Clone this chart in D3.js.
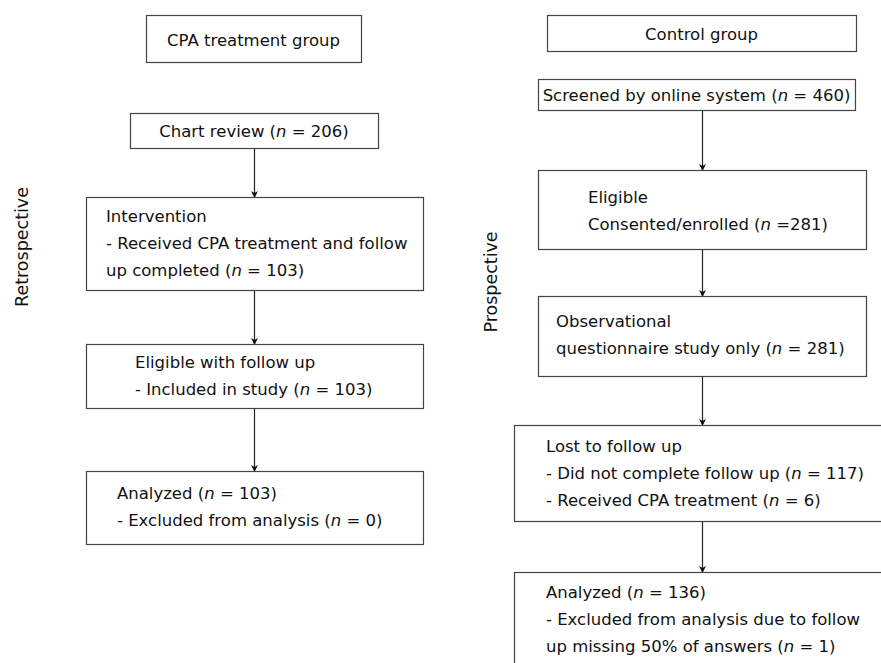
<!DOCTYPE html>
<html>
<head>
<meta charset="utf-8">
<script src="https://cdn.jsdelivr.net/npm/d3@7"></script>
<style>
  body { margin: 0; background: #fff; }
  svg { display: block; }
</style>
</head>
<body>
<svg id="chart" width="881" height="663"></svg>
<script>
// ######## Data: group titles, phase labels, box texts and counts
var groupTitles = ["CPA treatment group", "Control group"];
var phaseLabels = ["Retrospective", "Prospective"];

// n values
var cpaCounts = [206, 103, 103, 103, 0];
var controlCounts = [460, 281, 281, 117, 6, 136, 1];

// box texts, {n} is replaced with the italic n and the count
var cpaBoxes = [
  ["Chart review ({n} = " + cpaCounts[0] + ")"],
  ["Intervention", "- Received CPA treatment and follow", "up completed ({n} = " + cpaCounts[1] + ")"],
  ["Eligible with follow up", "- Included in study ({n} = " + cpaCounts[2] + ")"],
  ["Analyzed ({n} = " + cpaCounts[3] + ")", "- Excluded from analysis ({n} = " + cpaCounts[4] + ")"]
];
var controlBoxes = [
  ["Screened by online system ({n} = " + controlCounts[0] + ")"],
  ["Eligible", "Consented/enrolled ({n} =" + controlCounts[1] + ")"],
  ["Observational", "questionnaire study only ({n} = " + controlCounts[2] + ")"],
  ["Lost to follow up", "- Did not complete follow up ({n} = " + controlCounts[3] + ")", "- Received CPA treatment ({n} = " + controlCounts[4] + ")"],
  ["Analyzed ({n} = " + controlCounts[5] + ")", "- Excluded from analysis due to follow", "up missing 50% of answers ({n} = " + controlCounts[6] + ")"]
];

// ######## Layout (box geometry, text start)
var titleLayout = [
  {x0: 146, x1: 361, y0: 15, y1: 62},
  {x0: 547, x1: 856, y0: 15, y1: 51}
];
var cpaLayout = [
  {x0: 130, x1: 378, y0: 113, y1: 148, tx: "middle", first: 137},
  {x0: 86, x1: 423, y0: 197, y1: 290, tx: 106, first: 222},
  {x0: 86, x1: 423, y0: 344, y1: 408, tx: 135, first: 368},
  {x0: 86, x1: 423, y0: 471, y1: 544, tx: 117, first: 499}
];
var controlLayout = [
  {x0: 538, x1: 855, y0: 79, y1: 110, tx: "middle", first: 101},
  {x0: 538, x1: 866, y0: 170, y1: 249, tx: 588, first: 203},
  {x0: 538, x1: 866, y0: 296, y1: 376, tx: 556, first: 327},
  {x0: 514, x1: 900, y0: 425, y1: 521, tx: 546, first: 452},
  {x0: 514, x1: 900, y0: 572, y1: 700, tx: 546, first: 598}
];
var arrowX = [254, 702];
var phaseLayout = [{x: 28, y: 247}, {x: 497, y: 282}];

var fontFamily = "Tahoma, 'DejaVu Sans', sans-serif";
var fontSize = 16.5;
var phaseFontSize = 17.5;
var lineGap = 27;

var svg = d3.select("#chart");

svg.append("defs").append("marker")
  .attr("id", "arrowhead")
  .attr("viewBox", "0 0 10 10")
  .attr("refX", 10).attr("refY", 5)
  .attr("markerWidth", 7).attr("markerHeight", 8)
  .attr("markerUnits", "userSpaceOnUse")
  .attr("orient", "auto")
  .append("path")
  .attr("d", "M0,0 L10,5 L0,10 L3,5 Z")
  .attr("fill", "#111");

function drawRect(g, b) {
  g.append("rect")
    .attr("x", b.x0 + 0.5).attr("y", b.y0 + 0.5)
    .attr("width", b.x1 - b.x0).attr("height", b.y1 - b.y0)
    .attr("fill", "#fff")
    .attr("stroke", "#444")
    .attr("stroke-width", 1.2);
}

// writes a line, italic n inside
function writeLine(g, str, x, y, anchor) {
  var t = g.append("text")
    .attr("x", x).attr("y", y)
    .attr("text-anchor", anchor)
    .attr("font-family", fontFamily)
    .attr("font-size", fontSize)
    .attr("fill", "#111");
  var parts = str.split("{n}");
  parts.forEach(function(p, i) {
    if (i > 0) t.append("tspan").attr("font-style", "italic").text("n");
    t.append("tspan").text(p);
  });
  return t;
}

function drawColumn(boxes, layout, ax) {
  var g = svg.append("g");
  // arrows first so boxes sit on top
  for (var i = 0; i < layout.length - 1; i++) {
    g.append("line")
      .attr("x1", ax + 0.5).attr("x2", ax + 0.5)
      .attr("y1", layout[i].y1).attr("y2", layout[i + 1].y0 + 1)
      .attr("stroke", "#222")
      .attr("stroke-width", 1.2)
      .attr("marker-end", "url(#arrowhead)");
  }
  boxes.forEach(function(lines, i) {
    var b = layout[i];
    drawRect(g, b);
    lines.forEach(function(line, j) {
      if (b.tx === "middle") {
        writeLine(g, line, (b.x0 + b.x1) / 2, b.first + j * lineGap, "middle");
      } else {
        writeLine(g, line, b.tx, b.first + j * lineGap, "start");
      }
    });
  });
}

// group titles
groupTitles.forEach(function(title, i) {
  var b = titleLayout[i];
  drawRect(svg, b);
  svg.append("text")
    .attr("x", (b.x0 + b.x1) / 2)
    .attr("y", (b.y0 + b.y1) / 2 + 7)
    .attr("text-anchor", "middle")
    .attr("font-family", fontFamily)
    .attr("font-size", fontSize)
    .attr("fill", "#111")
    .text(title);
});

drawColumn(cpaBoxes, cpaLayout, arrowX[0]);
drawColumn(controlBoxes, controlLayout, arrowX[1]);

// phase labels, rotated
phaseLabels.forEach(function(label, i) {
  var p = phaseLayout[i];
  svg.append("text")
    .attr("transform", "translate(" + p.x + "," + p.y + ") rotate(-90)")
    .attr("text-anchor", "middle")
    .attr("font-family", fontFamily)
    .attr("font-size", phaseFontSize)
    .attr("fill", "#111")
    .text(label);
});
</script>
</body>
</html>
